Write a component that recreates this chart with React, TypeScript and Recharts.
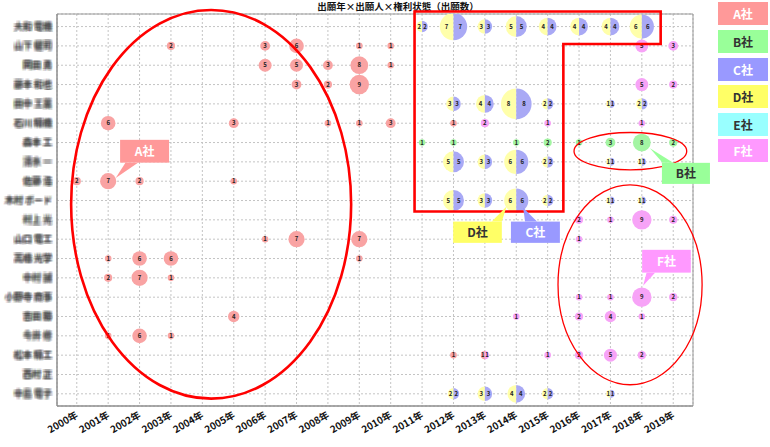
import { ScatterChart, Scatter, XAxis, YAxis, CartesianGrid, ReferenceArea } from "recharts";

const TITLE = "出願年×出願人×権利状態（出願数）";

const YEARS = [2000, 2001, 2002, 2003, 2004, 2005, 2006, 2007, 2008, 2009, 2010, 2011, 2012, 2013, 2014, 2015, 2016, 2017, 2018, 2019];

// applicant names are blurred in the original, placeholders here
const APPLICANTS = [
  "大和 電機", "山下 健司", "岡田 勇", "藤本 和也", "田中 工業",
  "石川 精機", "森本 工", "清水 一", "佐藤 浩", "木村 ボード",
  "村上 光", "山口 電工", "高橋 光学", "中村 誠", "小野寺 商事",
  "吉田 勝", "今井 修", "松本 精工", "西村 正", "中島 電子",
];
const ROWS = APPLICANTS.map((_, i) => i);

const COMPANIES = ["A社", "B社", "C社", "D社", "E社", "F社"];

// single-company bubbles: year, applicant row, count
const A_POINTS = [
  { year: 2003, row: 1, n: 2 }, { year: 2006, row: 1, n: 3 }, { year: 2007, row: 1, n: 6 },
  { year: 2009, row: 1, n: 1 }, { year: 2010, row: 1, n: 1 },
  { year: 2006, row: 2, n: 5 }, { year: 2007, row: 2, n: 5 }, { year: 2008, row: 2, n: 3 },
  { year: 2009, row: 2, n: 8 }, { year: 2010, row: 2, n: 1 },
  { year: 2007, row: 3, n: 3 }, { year: 2008, row: 3, n: 2 }, { year: 2009, row: 3, n: 9 },
  { year: 2001, row: 5, n: 6 }, { year: 2005, row: 5, n: 3 }, { year: 2008, row: 5, n: 1 },
  { year: 2009, row: 5, n: 1 }, { year: 2010, row: 5, n: 3 }, { year: 2012, row: 5, n: 1 },
  { year: 2000, row: 8, n: 2 }, { year: 2001, row: 8, n: 7 }, { year: 2002, row: 8, n: 2 },
  { year: 2005, row: 8, n: 1 },
  { year: 2006, row: 11, n: 1 }, { year: 2007, row: 11, n: 7 }, { year: 2009, row: 11, n: 7 },
  { year: 2001, row: 12, n: 1 }, { year: 2002, row: 12, n: 6 }, { year: 2003, row: 12, n: 6 },
  { year: 2009, row: 12, n: 1 },
  { year: 2001, row: 13, n: 2 }, { year: 2002, row: 13, n: 7 }, { year: 2003, row: 13, n: 1 },
  { year: 2005, row: 15, n: 4 },
  { year: 2001, row: 16, n: 1 }, { year: 2002, row: 16, n: 6 }, { year: 2003, row: 16, n: 1 },
  { year: 2012, row: 17, n: 1 },
];

const B_POINTS = [
  { year: 2011, row: 6, n: 1 }, { year: 2012, row: 6, n: 1 }, { year: 2014, row: 6, n: 1 },
  { year: 2015, row: 6, n: 2 }, { year: 2016, row: 6, n: 1 }, { year: 2017, row: 6, n: 3 },
  { year: 2018, row: 6, n: 8 }, { year: 2019, row: 6, n: 2 },
];

const F_POINTS = [
  { year: 2018, row: 1, n: 5 }, { year: 2019, row: 1, n: 3 },
  { year: 2018, row: 3, n: 5 }, { year: 2019, row: 3, n: 2 },
  { year: 2013, row: 5, n: 2 }, { year: 2015, row: 5, n: 1 }, { year: 2018, row: 5, n: 1 },
  { year: 2016, row: 10, n: 2 }, { year: 2017, row: 10, n: 1 }, { year: 2018, row: 10, n: 9 },
  { year: 2019, row: 10, n: 2 },
  { year: 2016, row: 11, n: 1 },
  { year: 2016, row: 14, n: 1 }, { year: 2017, row: 14, n: 1 }, { year: 2018, row: 14, n: 9 },
  { year: 2019, row: 14, n: 2 },
  { year: 2014, row: 15, n: 1 }, { year: 2016, row: 15, n: 2 }, { year: 2017, row: 15, n: 4 },
  { year: 2018, row: 15, n: 1 },
  { year: 2015, row: 17, n: 1 }, { year: 2016, row: 17, n: 2 }, { year: 2017, row: 17, n: 5 },
  { year: 2018, row: 17, n: 2 },
];

// shared bubbles: D社 (left half) / C社 (right half)
const DC_POINTS = [
  { year: 2011, row: 0, d: 2, c: 2 }, { year: 2012, row: 0, d: 7, c: 7 }, { year: 2013, row: 0, d: 3, c: 3 },
  { year: 2014, row: 0, d: 5, c: 5 }, { year: 2015, row: 0, d: 4, c: 4 }, { year: 2016, row: 0, d: 4, c: 4 },
  { year: 2017, row: 0, d: 4, c: 4 }, { year: 2018, row: 0, d: 6, c: 6 },
  { year: 2012, row: 4, d: 3, c: 3 }, { year: 2013, row: 4, d: 4, c: 4 }, { year: 2014, row: 4, d: 8, c: 8 },
  { year: 2015, row: 4, d: 2, c: 2 }, { year: 2017, row: 4, d: 1, c: 1 }, { year: 2018, row: 4, d: 2, c: 2 },
  { year: 2012, row: 7, d: 5, c: 5 }, { year: 2013, row: 7, d: 3, c: 3 }, { year: 2014, row: 7, d: 6, c: 6 },
  { year: 2015, row: 7, d: 2, c: 2 }, { year: 2017, row: 7, d: 1, c: 1 }, { year: 2018, row: 7, d: 1, c: 1 },
  { year: 2012, row: 9, d: 5, c: 5 }, { year: 2013, row: 9, d: 3, c: 3 }, { year: 2014, row: 9, d: 6, c: 6 },
  { year: 2015, row: 9, d: 2, c: 2 }, { year: 2017, row: 9, d: 1, c: 1 }, { year: 2018, row: 9, d: 1, c: 1 },
  { year: 2012, row: 19, d: 2, c: 2 }, { year: 2013, row: 19, d: 3, c: 3 }, { year: 2014, row: 19, d: 4, c: 4 },
  { year: 2015, row: 19, d: 2, c: 2 }, { year: 2017, row: 19, d: 1, c: 1 },
];

// shared bubble: A社 (left) / F社 (right)
const AF_POINTS = [{ year: 2013, row: 17, a: 1, f: 1 }];

const LEGEND_COLORS: Record<string, string> = {
  "A社": "#ff9999", "B社": "#99ff99", "C社": "#9999ff", "D社": "#ffff66", "E社": "#99ffff", "F社": "#ff99ff",
};
const LEGEND_TEXT: Record<string, string> = {
  "A社": "#fff", "B社": "#333", "C社": "#fff", "D社": "#333", "E社": "#333", "F社": "#fff",
};
const BUBBLE = { A: "#f9a3a3", B: "#a3f5a3", C: "#a9a9f5", D: "#ffffaa", F: "#f7a3f7" };

const X_DOMAIN = [1999.37, 2019.63];
const Y_DOMAIN = [-0.65, 19.63];

// annotation layout (data coordinates)
const ELLIPSES = [
  { x1: 1999.82, x2: 2008.74, y1: -0.86, y2: 19.25, w: 2.6 },
  { x1: 2015.84, x2: 2019.43, y1: 5.48, y2: 7.41, w: 1.3 },
  { x1: 2015.33, x2: 2019.92, y1: 8.19, y2: 18.53, w: 1.3 },
];
const FRAME = { x1: 2010.76, x2: 2018.6, y1: -0.78, y2: 9.57, notchX: 2015.5, notchY: 0.9 };
const CALLOUTS = [
  { label: "A社", x1: 2001.38, x2: 2002.94, y1: 5.86, y2: 7.04, base: [[2001.55, 7.04], [2001.95, 7.04]], tip: [2001.24, 7.83] },
  { label: "B社", x1: 2018.64, x2: 2020.17, y1: 7.05, y2: 8.14, base: [[2018.66, 7.05], [2019.0, 7.05]], tip: [2018.26, 6.29] },
  { label: "D社", x1: 2011.99, x2: 2013.54, y1: 10.09, y2: 11.19, base: [[2013.22, 10.09], [2013.54, 10.09]], tip: [2013.69, 9.31] },
  { label: "C社", x1: 2013.83, x2: 2015.39, y1: 10.09, y2: 11.19, base: [[2014.28, 10.09], [2014.66, 10.09]], tip: [2014.22, 9.38] },
  { label: "F社", x1: 2018.01, x2: 2019.56, y1: 11.55, y2: 12.73, base: [[2018.15, 12.73], [2018.42, 12.73]], tip: [2018.04, 13.41] },
];

const FONT = '"Noto Sans CJK JP", "Noto Sans", sans-serif';
const rOf = (n: number) => 2.5 + 0.8 * n;

// offsets for a hand-made blur of the applicant names
const SMEAR = [-1.6, -0.8, 0, 0.8, 1.6];

function bubble(fill: string) {
  return (props: any) => {
    const { cx, cy, payload } = props;
    const r = rOf(payload.n);
    return (
      <g>
        <circle cx={cx} cy={cy} r={r} fill={fill} />
        <text x={cx} y={cy} dy="0.35em" textAnchor="middle" fontSize={6} fontWeight="bold" fill="#222">
          {payload.n}
        </text>
      </g>
    );
  };
}

function splitBubble(leftKey: string, rightKey: string, leftFill: string, rightFill: string) {
  return (props: any) => {
    const { cx, cy, payload } = props;
    const l = payload[leftKey];
    const rt = payload[rightKey];
    const r = rOf(l + rt);
    return (
      <g>
        <path d={`M${cx},${cy - r} A${r},${r} 0 0 0 ${cx},${cy + r} Z`} fill={leftFill} />
        <path d={`M${cx},${cy - r} A${r},${r} 0 0 1 ${cx},${cy + r} Z`} fill={rightFill} />
        <text x={cx - Math.max(r / 2, 2)} y={cy} dy="0.35em" textAnchor="middle" fontSize={6} fontWeight="bold" fill="#222">{l}</text>
        <text x={cx + Math.max(r / 2, 2)} y={cy} dy="0.35em" textAnchor="middle" fontSize={6} fontWeight="bold" fill="#222">{rt}</text>
      </g>
    );
  };
}

function YearTick({ x, y, payload }: any) {
  return (
    <text x={x + 2} y={y + 3} transform={`rotate(-30, ${x + 2}, ${y + 3})`} textAnchor="end"
      fontSize={9.8} fontWeight="bold" fill="#111" fontFamily={FONT}>
      {payload.value}年
    </text>
  );
}

// names are blurred in the source chart: smear the text over a small grid of offsets
function NameTick({ x, y, payload }: any) {
  const name = APPLICANTS[payload.value];
  const copies: any[] = [];
  SMEAR.forEach((ox) =>
    SMEAR.forEach((oy) => {
      copies.push(
        <text key={`${ox}_${oy}`} x={x + 3 + ox} y={y + oy} dy="0.35em" textAnchor="end" fontSize={9}
          fontWeight="bold" fill="#333" fillOpacity={0.09} fontFamily={FONT}>
          {name}
        </text>
      );
    })
  );
  return <g>{copies}</g>;
}

// helper: map a data point into the pixel rect given to a ReferenceArea shape
function mapper(p: any, a: { x1: number; x2: number; y1: number; y2: number }) {
  return (dx: number, dy: number) => [
    p.x + ((dx - a.x1) / (a.x2 - a.x1)) * p.width,
    p.y + ((dy - a.y1) / (a.y2 - a.y1)) * p.height,
  ];
}

export default function App() {
  return (
    <div style={{ position: "absolute", left: 0, top: 0, width: 770, height: 447, background: "#fff", fontFamily: FONT }}>
      <div style={{ position: "absolute", left: 398, top: 0, transform: "translateX(-50%)", whiteSpace: "nowrap", fontSize: 9.5, fontWeight: "bold", lineHeight: "13px", color: "#111" }}>
        {TITLE}
      </div>
      <ScatterChart width={770} height={447} margin={{ top: 14, right: 77, bottom: 0, left: 0 }} style={{ fontFamily: FONT }}>
        <CartesianGrid strokeDasharray="2 2" stroke="#c4c4c4" />
        <XAxis type="number" dataKey="year" domain={X_DOMAIN} ticks={YEARS} interval={0} allowDataOverflow
          height={41} axisLine={{ stroke: "#888" }} tickLine={false} tick={<YearTick />} />
        <YAxis type="number" dataKey="row" domain={Y_DOMAIN} ticks={ROWS} interval={0} reversed allowDataOverflow
          width={57} axisLine={{ stroke: "#888" }} tickLine={false} tick={<NameTick />} />
        <ReferenceArea x1={X_DOMAIN[0]} x2={X_DOMAIN[1]} y1={Y_DOMAIN[0]} y2={Y_DOMAIN[1]} ifOverflow="visible"
          fill="none" fillOpacity={0} stroke="#999" strokeWidth={1} />
        <Scatter data={A_POINTS} shape={bubble(BUBBLE.A)} isAnimationActive={false} />
        <Scatter data={B_POINTS} shape={bubble(BUBBLE.B)} isAnimationActive={false} />
        <Scatter data={F_POINTS} shape={bubble(BUBBLE.F)} isAnimationActive={false} />
        <Scatter data={DC_POINTS} shape={splitBubble("d", "c", BUBBLE.D, BUBBLE.C)} isAnimationActive={false} />
        <Scatter data={AF_POINTS} shape={splitBubble("a", "f", BUBBLE.A, BUBBLE.F)} isAnimationActive={false} />

        {ELLIPSES.map((e, i) => (
          <ReferenceArea key={`e${i}`} x1={e.x1} x2={e.x2} y1={e.y1} y2={e.y2} ifOverflow="visible" zIndex={1000}
            shape={(p: any) => (
              <ellipse cx={p.x + p.width / 2} cy={p.y + p.height / 2} rx={p.width / 2} ry={p.height / 2}
                fill="none" stroke="#ff0000" strokeWidth={e.w} />
            )} />
        ))}
        <ReferenceArea x1={FRAME.x1} x2={FRAME.x2} y1={FRAME.y1} y2={FRAME.y2} ifOverflow="visible" zIndex={1000}
          shape={(p: any) => {
            const m = mapper(p, FRAME);
            const [nx, ny] = m(FRAME.notchX, FRAME.notchY);
            return (
              <path d={`M${p.x},${p.y} H${p.x + p.width} V${ny} H${nx} V${p.y + p.height} H${p.x} Z`}
                fill="none" stroke="#ff0000" strokeWidth={2.6} />
            );
          }} />
        {CALLOUTS.map((c) => (
          <ReferenceArea key={c.label} x1={c.x1} x2={c.x2} y1={c.y1} y2={c.y2} ifOverflow="visible" zIndex={1001}
            shape={(p: any) => {
              const m = mapper(p, c);
              const b0 = m(c.base[0][0], c.base[0][1]);
              const b1 = m(c.base[1][0], c.base[1][1]);
              const t = m(c.tip[0], c.tip[1]);
              const fill = LEGEND_COLORS[c.label];
              return (
                <g>
                  <polygon points={`${b0[0]},${b0[1]} ${b1[0]},${b1[1]} ${t[0]},${t[1]}`} fill={fill} />
                  <rect x={p.x} y={p.y} width={p.width} height={p.height} fill={fill} />
                  <text x={p.x + p.width / 2} y={p.y + p.height / 2} dy="0.36em" textAnchor="middle"
                    fontSize={12} fontWeight="bold" fill={LEGEND_TEXT[c.label]} fontFamily={FONT}>
                    {c.label}
                  </text>
                </g>
              );
            }} />
        ))}
      </ScatterChart>
      {COMPANIES.map((name, i) => (
        <div key={name} style={{
          position: "absolute", left: 718, top: [2, 30, 58, 85, 113, 139][i], width: 50, height: 23,
          background: LEGEND_COLORS[name], color: LEGEND_TEXT[name], fontSize: 12, fontWeight: "bold",
          lineHeight: "23px", textAlign: "center",
        }}>
          {name}
        </div>
      ))}
    </div>
  );
}
